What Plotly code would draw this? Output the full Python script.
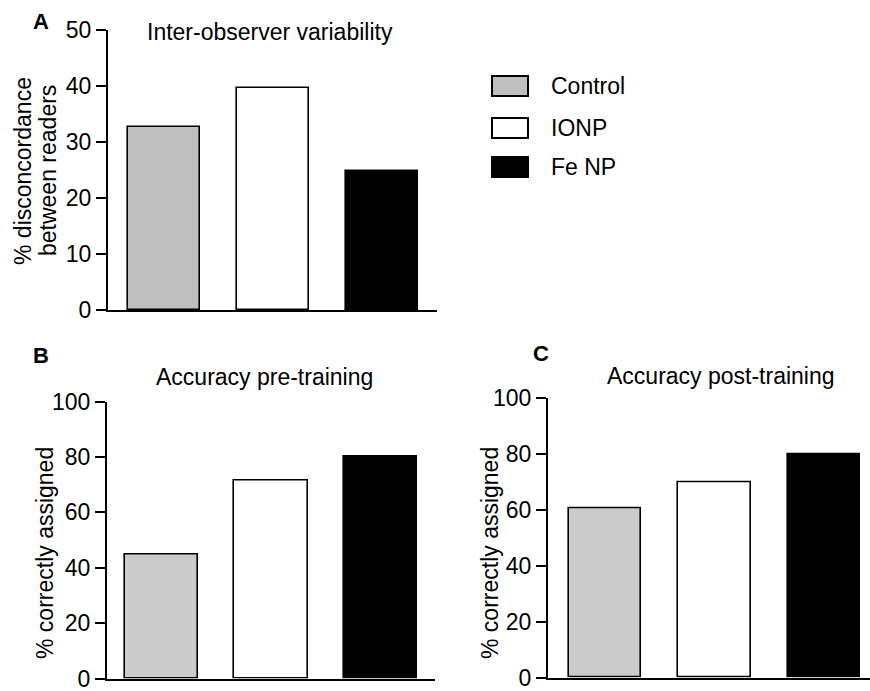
import plotly.graph_objects as go

W, H = 870, 691
FONT = "Liberation Sans, Arial, Helvetica, sans-serif"

categories = ["Control", "IONP", "Fe NP"]
inter_observer = [32.7, 39.7, 24.8]
acc_pre = [44.8, 71.6, 80.2]
acc_post = [60.6, 69.8, 80.1]

colors_a = ["#bfbfbf", "#ffffff", "#000000"]
colors_bc = ["#cbcbcb", "#ffffff", "#000000"]

ticks_a = [0, 10, 20, 30, 40, 50]
ticks_bc = [0, 20, 40, 60, 80, 100]

fig = go.Figure()

def add_bars(vals, colors, xa, ya, width):
    fig.add_trace(go.Bar(
        x=[0, 1, 2], y=vals, width=width,
        marker=dict(color=colors, line=dict(color="#000000", width=1.6)),
        xaxis=xa, yaxis=ya, showlegend=False, hoverinfo="skip",
    ))

add_bars(inter_observer, colors_a, "x", "y", 0.66)
add_bars(acc_pre, colors_bc, "x2", "y2", 0.667)
add_bars(acc_post, colors_bc, "x3", "y3", 0.66)

def px(x):
    return x / W

def py(y):
    return (H - y) / H

xcommon = dict(showline=True, linecolor="#000000", linewidth=2, ticks="",
               showticklabels=False, showgrid=False, zeroline=False,
               fixedrange=True, automargin=False)
ycommon = dict(showline=True, linecolor="#000000", linewidth=2, ticks="outside",
               ticklen=10, tickwidth=2, tickcolor="#000000", showgrid=False,
               zeroline=False, tickfont=dict(family=FONT, size=23, color="#000000"),
               fixedrange=True, automargin=False, ticklabeloverflow="allow")

fig.update_layout(
    template="none",
    width=W, height=H,
    margin=dict(l=0, r=0, t=0, b=0, pad=0),
    paper_bgcolor="#ffffff", plot_bgcolor="#ffffff",
    bargap=0,
    xaxis=dict(domain=[px(108), px(437)], range=[-0.513, 2.5], anchor="y", **xcommon),
    yaxis=dict(domain=[py(310), py(30)], range=[0, 50], tickvals=ticks_a, anchor="x", **ycommon),
    xaxis2=dict(domain=[px(107), px(435)], range=[-0.498, 2.498], anchor="y2", **xcommon),
    yaxis2=dict(domain=[py(678.5), py(401.5)], range=[0, 100], tickvals=ticks_bc, anchor="x2", **ycommon),
    xaxis3=dict(domain=[px(548), 1.0], range=[-0.52, 2.42], anchor="y3", **xcommon),
    yaxis3=dict(domain=[py(677.7), py(398.3)], range=[0, 100], tickvals=ticks_bc, anchor="x3", **ycommon),
    font=dict(family=FONT, color="#000000"),
)

def txt(text, x, y, size=23, bold=False, angle=0, xanchor="center"):
    fig.add_annotation(
        text=("<b>%s</b>" % text) if bold else text,
        x=px(x), y=py(y), xref="paper", yref="paper",
        xanchor=xanchor, yanchor="middle", showarrow=False, textangle=angle,
        font=dict(family=FONT, size=size, color="#000000"),
    )

# panel letters
txt("A", 41, 21.5, size=22, bold=True)
txt("B", 40.5, 355, size=22, bold=True)
txt("C", 541, 354, size=22, bold=True)

# titles
txt("Inter-observer variability", 270, 32)
txt("Accuracy pre-training", 264, 377)
txt("Accuracy post-training", 721, 376)

# y-axis labels
txt("% disconcordance", 23, 171, angle=-90)
txt("between readers", 48, 171, angle=-90)
txt("% correctly assigned", 45, 553, angle=-90)
txt("% correctly assigned", 490, 553, angle=-90)

# legend
legend_rows = [(86, colors_a[0]), (128, colors_a[1]), (167, colors_a[2])]
for (cy, col), name in zip(legend_rows, categories):
    fig.add_shape(type="rect", xref="paper", yref="paper",
                  x0=px(492), x1=px(528), y0=py(cy + 10), y1=py(cy - 10),
                  fillcolor=col, line=dict(color="#000000", width=2))
    txt(name, 549, cy, xanchor="left")

fig.write_html("out.html", config={"displayModeBar": False},
               post_script="document.body.style.margin='0px';")
